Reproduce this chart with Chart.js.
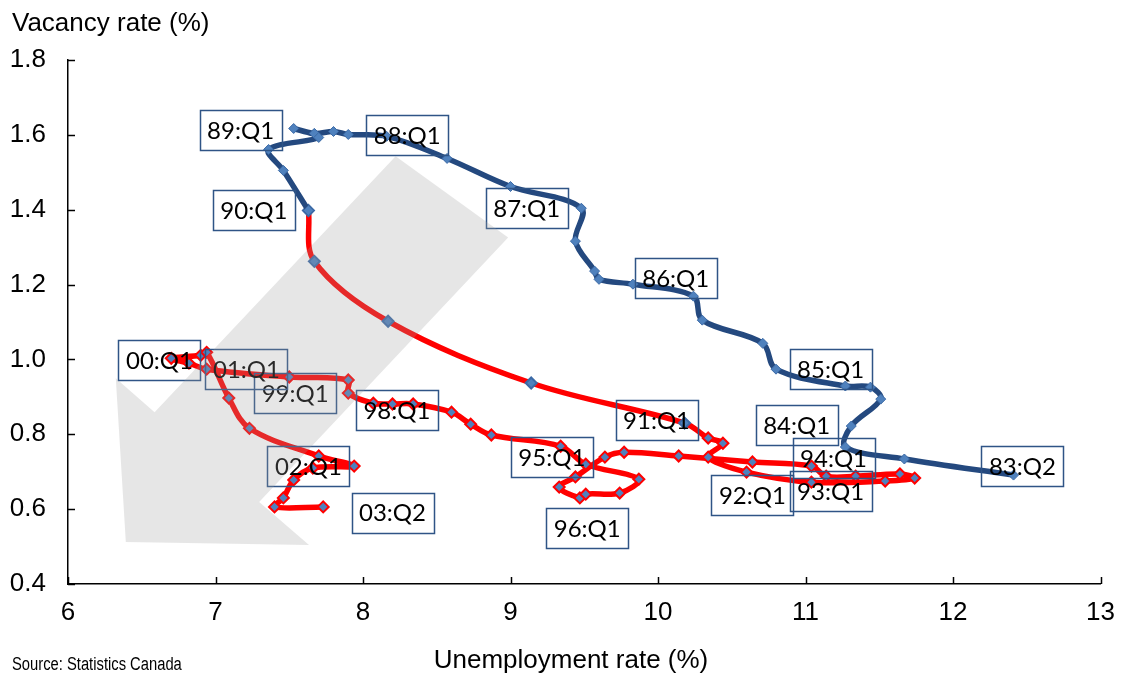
<!DOCTYPE html>
<html>
<head>
<meta charset="utf-8">
<script src="https://cdn.jsdelivr.net/npm/chart.js@4.4.0/dist/chart.umd.min.js"></script>
<style>
  html, body { margin: 0; padding: 0; background: #fff; }
</style>
</head>
<body>
<canvas id="chart" width="1128" height="674"></canvas>
<script>
// 1983:Q2 - 1990:Q1 (blue)
const blueX = [12.41, 11.67, 11.27, 11.31, 11.51, 11.44, 11.27, 10.80, 10.71, 10.30, 10.24, 9.83, 9.60, 9.57,
               9.44, 9.48, 9.00, 8.57, 8.16, 7.90, 7.80, 7.67, 7.53, 7.70, 7.36, 7.46, 7.63];
const blueY = [0.691, 0.734, 0.766, 0.822, 0.894, 0.926, 0.929, 0.974, 1.043, 1.105, 1.169, 1.201, 1.214, 1.236,
               1.316, 1.404, 1.462, 1.537, 1.596, 1.601, 1.609, 1.604, 1.617, 1.593, 1.561, 1.505, 1.398];

// 1990:Q1 - 2003:Q2 (red)
const redX = [7.63, 7.67, 8.17, 9.14, 10.18, 10.34, 10.44, 10.34, 10.60, 11.04, 11.54, 11.74, 11.64, 11.34,
              11.14, 11.04, 10.64, 10.14, 9.77, 9.64, 9.44, 9.33, 9.47, 9.51, 9.74, 9.87, 9.51, 9.34,
              8.87, 8.73, 8.60, 8.34, 8.20, 8.07, 7.90, 7.90, 7.50, 6.94, 6.82, 6.70, 6.90, 6.94,
              7.09, 7.23, 7.70, 7.94, 7.66, 7.53, 7.46, 7.40, 7.73];
const redY = [1.398, 1.262, 1.102, 0.937, 0.830, 0.790, 0.776, 0.739, 0.699, 0.672, 0.675, 0.683, 0.694, 0.688,
              0.688, 0.715, 0.726, 0.742, 0.752, 0.739, 0.686, 0.659, 0.630, 0.640, 0.643, 0.680, 0.720, 0.768,
              0.798, 0.827, 0.859, 0.881, 0.881, 0.883, 0.910, 0.945, 0.953, 0.974, 0.990, 1.003, 1.011, 1.019,
              0.897, 0.816, 0.742, 0.715, 0.710, 0.678, 0.630, 0.606, 0.606];

// quarter callouts
const periodLabels = ['83:Q2', '84:Q1', '85:Q1', '86:Q1', '87:Q1', '88:Q1', '89:Q1', '90:Q1', '91:Q1', '92:Q1',
                      '93:Q1', '94:Q1', '95:Q1', '96:Q1', '98:Q1', '99:Q1', '00:Q1', '01:Q1', '02:Q1', '03:Q2'];
const labelX = [12.47, 10.94, 11.17, 10.12, 9.11, 8.30, 7.17, 7.26, 9.99, 10.64,
                11.17, 11.19, 9.28, 9.52, 8.23, 7.54, 6.62, 7.21, 7.63, 8.20];
const labelY = [0.714, 0.824, 0.974, 1.217, 1.405, 1.599, 1.612, 1.398, 0.838, 0.638,
                0.648, 0.736, 0.739, 0.549, 0.864, 0.909, 0.999, 0.974, 0.714, 0.591];

const xTicks = [6, 7, 8, 9, 10, 11, 12, 13];
const yTicks = [0.4, 0.6, 0.8, 1.0, 1.2, 1.4, 1.6, 1.8];

// big grey arrow (data units)
const arrowX = [8.221, 8.984, 7.296, 7.634, 6.392, 6.324, 6.587];
const arrowY = [1.543, 1.326, 0.619, 0.504, 0.512, 0.950, 0.859];

const toPoints = (xs, ys) => xs.map((x, i) => ({x: x, y: ys[i]}));

const extras = {
  id: 'extras',
  afterDraw(chart) {
    const ctx = chart.ctx, xs = chart.scales.x, ys = chart.scales.y, area = chart.chartArea;
    ctx.save();

    // inside tick marks
    ctx.strokeStyle = '#000';
    ctx.lineWidth = 1.5;
    xTicks.forEach(v => {
      const px = Math.round(xs.getPixelForValue(v)) + 0.5;
      ctx.beginPath(); ctx.moveTo(px, area.bottom); ctx.lineTo(px, area.bottom - 7); ctx.stroke();
    });
    yTicks.forEach(v => {
      const py = Math.round(ys.getPixelForValue(v)) + 0.5;
      ctx.beginPath(); ctx.moveTo(area.left, py); ctx.lineTo(area.left + 7, py); ctx.stroke();
    });

    // callout boxes
    ctx.font = '24px Lato';
    ctx.textAlign = 'center';
    ctx.textBaseline = 'middle';
    ctx.strokeStyle = '#2f5486';
    ctx.lineWidth = 1.5;
    ctx.fillStyle = '#000';
    periodLabels.forEach((t, i) => {
      const cx = xs.getPixelForValue(labelX[i]), cy = ys.getPixelForValue(labelY[i]);
      ctx.strokeRect(Math.round(cx - 41) + 0.5, Math.round(cy - 20) + 0.5, 82, 40);
      ctx.fillText(t, cx, cy + 1);
    });

    // arrow overlay
    ctx.fillStyle = 'rgba(160,160,160,0.26)';
    ctx.beginPath();
    arrowX.forEach((x, i) => {
      const px = xs.getPixelForValue(x), py = ys.getPixelForValue(arrowY[i]);
      if (i === 0) ctx.moveTo(px, py); else ctx.lineTo(px, py);
    });
    ctx.closePath();
    ctx.fill();

    // titles
    ctx.fillStyle = '#000';
    ctx.textAlign = 'left';
    ctx.textBaseline = 'alphabetic';
    ctx.font = '26px "Liberation Sans", Arial, sans-serif';
    ctx.fillText('Vacancy rate (%)', 12, 31);
    ctx.textAlign = 'center';
    ctx.fillText('Unemployment rate (%)', 571, 668);
    ctx.textAlign = 'left';
    ctx.font = '18px "Liberation Sans", Arial, sans-serif';
    ctx.save();
    ctx.translate(12, 670);
    ctx.scale(0.82, 1);
    ctx.fillText('Source: Statistics Canada', 0, 0);
    ctx.restore();
    ctx.restore();
  }
};

new Chart(document.getElementById('chart'), {
  type: 'scatter',
  data: {
    datasets: [
      {
        data: toPoints(blueX, blueY),
        showLine: true,
        borderColor: '#24497f',
        borderWidth: 5.5,
        tension: 0.35,
        pointStyle: 'rectRot',
        pointRadius: 5,
        pointBackgroundColor: '#4f81bd',
        pointBorderColor: '#3c6aa6',
        pointBorderWidth: 1,
        order: 1
      },
      {
        data: toPoints(redX, redY),
        showLine: true,
        borderColor: '#ff0000',
        borderWidth: 5.5,
        tension: 0.35,
        pointStyle: 'rectRot',
        pointRadius: 5.5,
        pointBackgroundColor: '#4f81bd',
        pointBorderColor: redX.map((v, i) => i < 5 ? '#3c6aa6' : '#ff0000'),
        pointBorderWidth: 2,
        order: 2
      }
    ]
  },
  options: {
    responsive: false,
    animation: false,
    devicePixelRatio: 1,
    layout: { padding: { top: 60, right: 23, left: 0, bottom: 0 } },
    plugins: { legend: { display: false }, tooltip: { enabled: false } },
    scales: {
      x: {
        type: 'linear', min: 6, max: 13,
        afterFit: s => { s.height = 90; },
        afterBuildTicks: s => { s.ticks = xTicks.map(v => ({value: v})); },
        ticks: { color: '#000', padding: 13, font: { family: 'Liberation Sans', size: 26 } },
        grid: { display: false, drawTicks: false },
        border: { color: '#000', width: 1.5 }
      },
      y: {
        type: 'linear', min: 0.4, max: 1.8,
        afterFit: s => { s.width = 68; },
        afterBuildTicks: s => { s.ticks = yTicks.map(v => ({value: v})); },
        ticks: { color: '#000', padding: 22, font: { family: 'Liberation Sans', size: 26 },
                 callback: v => Number(v).toFixed(1) },
        grid: { display: false, drawTicks: false },
        border: { color: '#000', width: 1.5 }
      }
    }
  },
  plugins: [extras]
});
</script>
</body>
</html>
